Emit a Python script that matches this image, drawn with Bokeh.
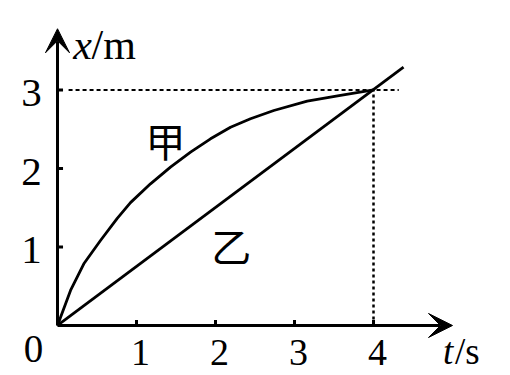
from bokeh.plotting import figure
from bokeh.models import Range1d, Arrow, VeeHead
from bokeh.core.properties import value
from bokeh.embed import file_html
from bokeh.resources import INLINE

# Curve 甲
jia_t = [0, 0.165, 0.333, 0.544, 0.756, 0.924, 1.177, 1.430, 1.684, 1.937, 2.190, 2.443, 2.738, 3.161, 3.582, 4.0]
jia_x = [0, 0.446, 0.786, 1.083, 1.365, 1.565, 1.805, 2.017, 2.208, 2.378, 2.526, 2.633, 2.739, 2.857, 2.930, 3.0]
# Line 乙
yi_t = [0, 4.38]
yi_x = [0, 3.29]
# Meeting point
meet_t = 4
meet_x = 3
# Ticks
t_ticks = [1, 2, 3, 4]
t_tick_labels = ["1", "2", "3", "4"]
x_ticks = [1, 2, 3]
x_tick_labels = ["1", "2", "3"]
t_axis_end = 5.0
x_axis_end = 3.78

SERIF = value("Liberation Serif")
CJK = value("Noto Sans CJK SC")

p = figure(width=510, height=375, x_range=Range1d(-0.7215, 5.734), y_range=Range1d(-0.637, 4.140),
           x_axis_type=None, y_axis_type=None, toolbar_location=None, output_backend="svg",
           min_border=0, title=None)
p.outline_line_color = None
p.background_fill_color = "white"

# axes with arrows
p.add_layout(Arrow(x_start=0, y_start=0, x_end=t_axis_end, y_end=0, line_width=3, line_color="black",
                   end=VeeHead(size=24, fill_color="black", line_color="black", line_width=1)))
p.add_layout(Arrow(x_start=0, y_start=0, x_end=0, y_end=x_axis_end, line_width=3, line_color="black",
                   end=VeeHead(size=24, fill_color="black", line_color="black", line_width=1)))

# tick marks
tick_len = 0.07
p.segment(x0=t_ticks, y0=[0] * len(t_ticks), x1=t_ticks, y1=[tick_len] * len(t_ticks),
          line_color="black", line_width=3)
p.segment(x0=[0] * len(x_ticks), y0=x_ticks, x1=[tick_len] * len(x_ticks), y1=x_ticks,
          line_color="black", line_width=3)

# dashed guides
p.line(x=[0.14, meet_t + 0.32], y=[meet_x, meet_x], line_color="black", line_width=2, line_dash="4 3")
p.line(x=[meet_t, meet_t], y=[0, meet_x], line_color="black", line_width=2.5, line_dash="3 3")

# curves
p.line(x=jia_t, y=jia_x, line_color="black", line_width=2.8, line_join="round")
p.line(x=yi_t, y=yi_x, line_color="black", line_width=2.8)

# tick labels
p.text(x=[t + 0.05 for t in t_ticks], y=[-0.345] * len(t_ticks), text=t_tick_labels,
       text_font=SERIF, text_font_size="38px", text_align="center", text_baseline="middle")
p.text(x=[-0.2] * len(x_ticks), y=[v - 0.04 for v in x_ticks], text=x_tick_labels,
       text_font=SERIF, text_font_size="41px", text_align="right", text_baseline="middle")
p.text(x=[-0.304], y=[-0.30], text=["0"], text_font=SERIF, text_font_size="39px",
       text_align="center", text_baseline="middle")

# axis labels
p.text(x=[0.20], y=[3.57], text=["x"], text_font=SERIF, text_font_size="42px",
       text_font_style="italic", text_align="left", text_baseline="alphabetic")
p.text(x=[0.43], y=[3.57], text=["/m"], text_font=SERIF, text_font_size="42px",
       text_align="left", text_baseline="alphabetic")
p.text(x=[4.88], y=[-0.33], text=["t"], text_font=SERIF, text_font_size="37px",
       text_font_style="italic", text_align="left", text_baseline="alphabetic")
p.text(x=[5.03], y=[-0.33], text=["/s"], text_font=SERIF, text_font_size="37px",
       text_align="left", text_baseline="alphabetic")

# curve names
p.text(x=[1.367], y=[2.357], text=["甲"], text_font=CJK, text_font_size="40px",
       text_align="center", text_baseline="middle")
p.text(x=[2.20], y=[1.03], text=["乙"], text_font=CJK, text_font_size="40px",
       text_align="center", text_baseline="middle")

open("out.html", "w").write(file_html(p, INLINE))
